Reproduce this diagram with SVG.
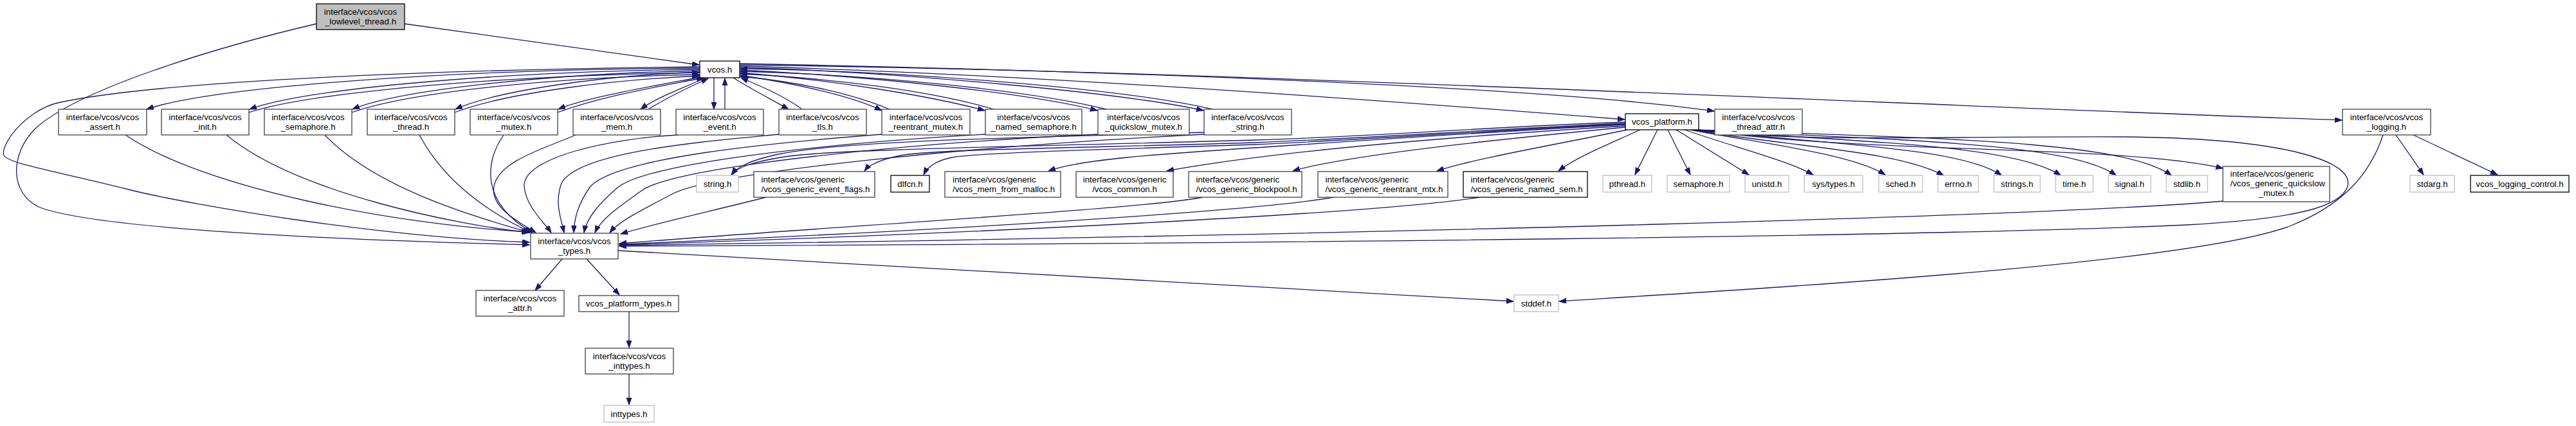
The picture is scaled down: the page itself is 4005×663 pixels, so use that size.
<svg xmlns="http://www.w3.org/2000/svg" width="4005" height="663" viewBox="0 0 4005 663">
<style>
.e path{fill:none;stroke:#191970;stroke-width:1.3;marker-end:url(#ah)}
.n rect{fill:#fff;stroke:#404040;stroke-width:1.3}
.n.g rect{stroke:#bfbfbf}
.n.k rect{stroke:#000}
.n.r rect{fill:#bfbfbf;stroke:#000}
text{font-family:"Liberation Sans",Arial,Helvetica,sans-serif;font-size:13.33px;fill:#000}
.c{text-anchor:middle}
.l{text-anchor:start}
</style>
<defs>
<marker id="ah" markerUnits="userSpaceOnUse" markerWidth="12" markerHeight="9" refX="11" refY="4" orient="auto">
<path d="M0,0 L11,4 L0,8 z" fill="#191970" stroke="#191970" stroke-width="1"/>
</marker>
</defs>
<rect width="4005" height="663" fill="#fff"/>
<g id="edges" class="e">
<path d="M629,37 C800,60 950,82 1087,101"/>
<path d="M492,37 C330,75 120,140 55,200 C15,240 15,300 60,322 C130,350 400,370 823,381"/>
<path d="M1088,104 C700,108 250,125 90,160 C40,172 0,225 6,242 C15,255 80,265 200,295 C300,320 600,370 823,377"/>
<path d="M1088,106 C700,108 330,135 228,170"/>
<path d="M1088,108 C750,112 470,140 388,170"/>
<path d="M387,175 C480,145 760,118 1087,113"/>
<path d="M1088,110 C850,115 620,140 548,170"/>
<path d="M547,175 C640,142 870,120 1087,116"/>
<path d="M1088,112 C930,118 770,142 708,170"/>
<path d="M707,175 C790,143 960,124 1087,118"/>
<path d="M1089,120 C1010,135 910,152 868,170"/>
<path d="M867,175 C940,148 1040,132 1094,121"/>
<path d="M1097,121 C1060,138 1020,152 996,170"/>
<path d="M1008,170 C1040,150 1075,134 1101,122"/>
<path d="M1110,121 L1110,170"/>
<path d="M1127,170 L1127,122"/>
<path d="M1140,121 C1170,140 1200,155 1226,170"/>
<path d="M1247,170 C1220,150 1185,135 1152,121"/>
<path d="M1150,117 C1250,132 1330,152 1371,172"/>
<path d="M1383,170 C1330,148 1250,128 1151,119"/>
<path d="M1150,113 C1300,125 1450,150 1531,172"/>
<path d="M1545,170 C1450,142 1300,122 1151,115"/>
<path d="M1150,109 C1350,118 1600,145 1706,172"/>
<path d="M1720,170 C1600,140 1350,116 1151,111"/>
<path d="M1150,105 C1400,112 1750,145 1871,172"/>
<path d="M1885,170 C1750,138 1400,110 1151,107"/>
<path d="M1150,103 C1600,115 2200,160 2526,186"/>
<path d="M1150,101 C1700,108 2400,135 2665,173"/>
<path d="M1150,99 C2000,115 3000,165 3641,187"/>
<path d="M195,210 C320,295 620,350 822,361"/>
<path d="M352,210 C460,300 710,350 823,362"/>
<path d="M505,210 C590,300 770,346 824,362"/>
<path d="M652,210 C700,300 790,345 826,362"/>
<path d="M783,210 C755,250 745,315 828,362"/>
<path d="M895,210 C850,230 775,250 768,290 C762,322 805,345 833,362"/>
<path d="M1055,210 C950,215 812,245 815,290 C818,322 845,345 857,362"/>
<path d="M1212,209 C1100,220 900,235 873,285 C862,315 872,340 877,362"/>
<path d="M1372,209 C1200,222 960,245 918,290 C898,318 893,340 892,362"/>
<path d="M1533,209 C1300,222 1010,252 960,292 C930,318 912,340 908,362"/>
<path d="M1708,209 C1420,222 1060,258 1000,295 C965,320 935,340 925,362"/>
<path d="M1873,209 C1500,228 1110,268 1045,302 C995,328 962,345 948,362"/>
<path d="M1191,307 C1100,330 1030,345 965,364"/>
<path d="M1870,307 C1780,325 1300,352 963,379"/>
<path d="M2073,307 C1950,330 1400,362 963,380"/>
<path d="M2300,307 C2150,332 1500,364 963,381"/>
<path d="M3456,313 C3200,335 2200,364 963,382"/>
<path d="M2630,202 C2800,222 3000,212 3300,213 C3550,215 3660,250 3650,290 C3640,320 3580,340 3400,350 C3000,368 2000,379 963,383"/>
<path d="M3705,210 C3685,270 3645,318 3560,352 C3400,410 2800,445 2424,469"/>
<path d="M961,390 C1500,420 2000,448 2353,469"/>
<path d="M2527,190 C2300,198 2150,212 1950,218 C1600,228 1300,232 1220,244 C1170,252 1147,260 1137,272"/>
<path d="M1873,206 C1600,214 1320,218 1210,240 C1165,250 1145,260 1138,272"/>
<path d="M2527,192 C2300,202 2150,214 1950,222 C1700,230 1450,232 1400,242 C1370,248 1352,256 1344,266"/>
<path d="M2527,193 C2300,204 2150,216 1950,225 C1700,233 1520,238 1480,245 C1455,250 1442,260 1436,272"/>
<path d="M2527,194 C2300,206 2100,220 1950,230 C1800,240 1680,248 1630,266"/>
<path d="M2527,196 C2300,210 2000,232 1814,266"/>
<path d="M2527,198 C2350,215 2100,240 2010,266"/>
<path d="M2530,202 C2420,225 2300,245 2234,266"/>
<path d="M2550,202 C2500,225 2450,245 2423,266"/>
<path d="M2577,202 L2542,272"/>
<path d="M2593,202 L2628,272"/>
<path d="M2606,202 L2719,272"/>
<path d="M2619,202 C2700,230 2780,250 2819,272"/>
<path d="M2628,202 C2750,225 2880,240 2931,272"/>
<path d="M2630,202 C2800,230 2950,235 3022,273"/>
<path d="M2632,202 C2850,225 3050,230 3112,273"/>
<path d="M2634,202 C2900,222 3130,225 3204,273"/>
<path d="M2636,202 C2950,218 3220,222 3290,273"/>
<path d="M2638,202 C3000,215 3300,218 3376,273"/>
<path d="M2640,202 C2900,240 3300,225 3456,262"/>
<path d="M3725,210 L3768,272"/>
<path d="M3752,210 L3883,272"/>
<path d="M874,403 L832,452"/>
<path d="M912,403 L963,459"/>
<path d="M978,485 L978,541"/>
<path d="M978,582 L978,630"/>
</g>
<g id="n_lowlevel" class="n r"><rect x="492" y="6" width="137" height="40"/><text class="c" x="560.5" y="23">interface/vcos/vcos<tspan x="560.5" y="38">_lowlevel_thread.h</tspan></text></g>
<g id="n_vcos" class="n k"><rect x="1088" y="95" width="62" height="26"/><text class="c" x="1119" y="113">vcos.h</text></g>
<g id="n_assert" class="n"><rect x="91" y="170" width="137" height="40"/><text class="c" x="159.5" y="187">interface/vcos/vcos<tspan x="159.5" y="202">_assert.h</tspan></text></g>
<g id="n_init" class="n"><rect x="251" y="170" width="136" height="40"/><text class="c" x="319" y="187">interface/vcos/vcos<tspan x="319" y="202">_init.h</tspan></text></g>
<g id="n_semaphore" class="n"><rect x="411" y="170" width="136" height="40"/><text class="c" x="479" y="187">interface/vcos/vcos<tspan x="479" y="202">_semaphore.h</tspan></text></g>
<g id="n_thread" class="n"><rect x="571" y="170" width="136" height="40"/><text class="c" x="639" y="187">interface/vcos/vcos<tspan x="639" y="202">_thread.h</tspan></text></g>
<g id="n_mutex" class="n"><rect x="731" y="170" width="136" height="40"/><text class="c" x="799" y="187">interface/vcos/vcos<tspan x="799" y="202">_mutex.h</tspan></text></g>
<g id="n_mem" class="n"><rect x="891" y="170" width="136" height="40"/><text class="c" x="959" y="187">interface/vcos/vcos<tspan x="959" y="202">_mem.h</tspan></text></g>
<g id="n_event" class="n"><rect x="1051" y="170" width="136" height="40"/><text class="c" x="1119" y="187">interface/vcos/vcos<tspan x="1119" y="202">_event.h</tspan></text></g>
<g id="n_tls" class="n"><rect x="1211" y="170" width="136" height="40"/><text class="c" x="1279" y="187">interface/vcos/vcos<tspan x="1279" y="202">_tls.h</tspan></text></g>
<g id="n_reentrant_mutex" class="n"><rect x="1371" y="170" width="137" height="40"/><text class="c" x="1439.5" y="187">interface/vcos/vcos<tspan x="1439.5" y="202">_reentrant_mutex.h</tspan></text></g>
<g id="n_named_semaphore" class="n"><rect x="1532" y="170" width="150" height="40"/><text class="c" x="1607" y="187">interface/vcos/vcos<tspan x="1607" y="202">_named_semaphore.h</tspan></text></g>
<g id="n_quickslow_mutex" class="n"><rect x="1707" y="170" width="142" height="40"/><text class="c" x="1778" y="187">interface/vcos/vcos<tspan x="1778" y="202">_quickslow_mutex.h</tspan></text></g>
<g id="n_vcos_string" class="n"><rect x="1872" y="170" width="136" height="40"/><text class="c" x="1940" y="187">interface/vcos/vcos<tspan x="1940" y="202">_string.h</tspan></text></g>
<g id="n_vcos_platform" class="n k"><rect x="2527" y="177" width="114" height="25"/><text class="c" x="2584" y="194">vcos_platform.h</text></g>
<g id="n_thread_attr" class="n"><rect x="2666" y="170" width="136" height="40"/><text class="c" x="2734" y="187">interface/vcos/vcos<tspan x="2734" y="202">_thread_attr.h</tspan></text></g>
<g id="n_logging" class="n"><rect x="3642" y="170" width="137" height="40"/><text class="c" x="3710.5" y="187">interface/vcos/vcos<tspan x="3710.5" y="202">_logging.h</tspan></text></g>
<g id="n_string_h" class="n g"><rect x="1083" y="273" width="65" height="26"/><text class="c" x="1115.5" y="291">string.h</text></g>
<g id="n_event_flags" class="n"><rect x="1172" y="267" width="188" height="40"/><text class="l" x="1183.5" y="284">interface/vcos/generic<tspan x="1183.5" y="299">/vcos_generic_event_flags.h</tspan></text></g>
<g id="n_dlfcn" class="n k"><rect x="1385" y="273" width="60" height="26"/><text class="c" x="1415" y="291">dlfcn.h</text></g>
<g id="n_mem_from_malloc" class="n"><rect x="1469" y="267" width="180" height="40"/><text class="l" x="1481" y="284">interface/vcos/generic<tspan x="1481" y="299">/vcos_mem_from_malloc.h</tspan></text></g>
<g id="n_common" class="n"><rect x="1673" y="267" width="151" height="40"/><text class="c" x="1748.5" y="284">interface/vcos/generic<tspan x="1748.5" y="299">/vcos_common.h</tspan></text></g>
<g id="n_blockpool" class="n"><rect x="1848" y="267" width="176" height="40"/><text class="l" x="1859.5" y="284">interface/vcos/generic<tspan x="1859.5" y="299">/vcos_generic_blockpool.h</tspan></text></g>
<g id="n_reentrant_mtx" class="n"><rect x="2049" y="267" width="202" height="40"/><text class="l" x="2060.5" y="284">interface/vcos/generic<tspan x="2060.5" y="299">/vcos_generic_reentrant_mtx.h</tspan></text></g>
<g id="n_named_sem" class="n k"><rect x="2275" y="267" width="193" height="40"/><text class="l" x="2286.5" y="284">interface/vcos/generic<tspan x="2286.5" y="299">/vcos_generic_named_sem.h</tspan></text></g>
<g id="n_pthread" class="n g"><rect x="2492" y="273" width="76" height="26"/><text class="c" x="2530" y="291">pthread.h</text></g>
<g id="n_semaphore_h" class="n g"><rect x="2592" y="273" width="97" height="26"/><text class="c" x="2640.5" y="291">semaphore.h</text></g>
<g id="n_unistd" class="n g"><rect x="2713" y="273" width="68" height="26"/><text class="c" x="2747" y="291">unistd.h</text></g>
<g id="n_sys_types" class="n g"><rect x="2805" y="273" width="91" height="26"/><text class="c" x="2850.5" y="291">sys/types.h</text></g>
<g id="n_sched" class="n g"><rect x="2921" y="273" width="68" height="26"/><text class="c" x="2955" y="291">sched.h</text></g>
<g id="n_errno" class="n g"><rect x="3013" y="273" width="63" height="26"/><text class="c" x="3044.5" y="291">errno.h</text></g>
<g id="n_strings" class="n g"><rect x="3100" y="273" width="72" height="26"/><text class="c" x="3136" y="291">strings.h</text></g>
<g id="n_time" class="n g"><rect x="3196" y="273" width="58" height="26"/><text class="c" x="3225" y="291">time.h</text></g>
<g id="n_signal" class="n g"><rect x="3278" y="273" width="66" height="26"/><text class="c" x="3311" y="291">signal.h</text></g>
<g id="n_stdlib" class="n g"><rect x="3368" y="273" width="64" height="26"/><text class="c" x="3400" y="291">stdlib.h</text></g>
<g id="n_quickslow_generic" class="n"><rect x="3456" y="259" width="166" height="55"/><text class="l" x="3467.5" y="275">interface/vcos/generic<tspan x="3467.5" y="290">/vcos_generic_quickslow</tspan><tspan x="3539" y="305" text-anchor="middle">_mutex.h</tspan></text></g>
<g id="n_stdarg" class="n g"><rect x="3747" y="273" width="69" height="26"/><text class="c" x="3781.5" y="291">stdarg.h</text></g>
<g id="n_logging_control" class="n k"><rect x="3841" y="273" width="153" height="26"/><text class="c" x="3917.5" y="291">vcos_logging_control.h</text></g>
<g id="n_types" class="n"><rect x="825" y="363" width="136" height="40"/><text class="c" x="893" y="380">interface/vcos/vcos<tspan x="893" y="395">_types.h</tspan></text></g>
<g id="n_attr" class="n"><rect x="740" y="452" width="137" height="40"/><text class="c" x="808.5" y="469">interface/vcos/vcos<tspan x="808.5" y="484">_attr.h</tspan></text></g>
<g id="n_platform_types" class="n"><rect x="900" y="460" width="155" height="25"/><text class="c" x="977.5" y="477">vcos_platform_types.h</text></g>
<g id="n_stddef" class="n g"><rect x="2354" y="459" width="69" height="26"/><text class="c" x="2388.5" y="477">stddef.h</text></g>
<g id="n_vcos_inttypes" class="n"><rect x="910" y="542" width="137" height="40"/><text class="c" x="978.5" y="559">interface/vcos/vcos<tspan x="978.5" y="574">_inttypes.h</tspan></text></g>
<g id="n_inttypes" class="n g"><rect x="939" y="631" width="78" height="26"/><text class="c" x="978" y="649">inttypes.h</text></g>
</svg>
